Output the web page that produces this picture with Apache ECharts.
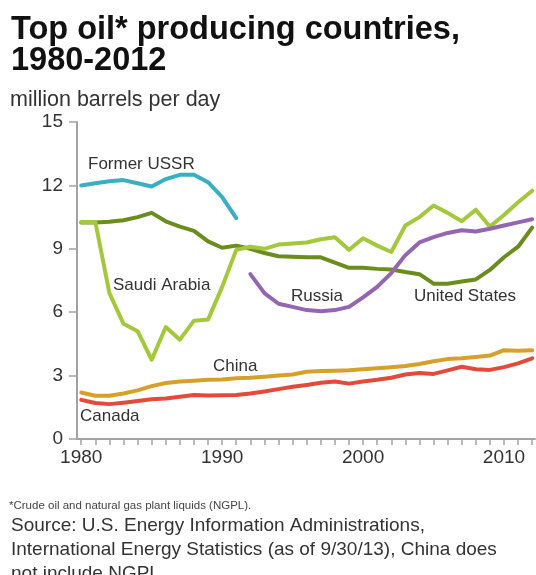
<!DOCTYPE html>
<html>
<head>
<meta charset="utf-8">
<script src="https://cdn.jsdelivr.net/npm/echarts@6/dist/echarts.min.js"></script>
<style>
  html, body { margin: 0; padding: 0; background: #fff; }
  #chart { width: 536px; height: 575px; }
</style>
</head>
<body>
<div id="chart"></div>
<script>
// Years on the horizontal axis
const years = [1980, 1981, 1982, 1983, 1984, 1985, 1986, 1987, 1988, 1989,
  1990, 1991, 1992, 1993, 1994, 1995, 1996, 1997, 1998, 1999,
  2000, 2001, 2002, 2003, 2004, 2005, 2006, 2007, 2008, 2009,
  2010, 2011, 2012];
const yearLabels = [1980, 1990, 2000, 2010];
const ussrYears = [1980, 1981, 1982, 1983, 1984, 1985, 1986, 1987, 1988, 1989, 1990, 1991];
const russiaYears = [1992, 1993, 1994, 1995, 1996, 1997, 1998, 1999, 2000, 2001,
  2002, 2003, 2004, 2005, 2006, 2007, 2008, 2009, 2010, 2011, 2012];

// Production, million barrels per day
const formerUSSR = [12.0, 12.1, 12.2, 12.25, 12.1, 11.95, 12.3, 12.5, 12.5, 12.15, 11.45, 10.45];
const russia = [7.8, 6.9, 6.4, 6.25, 6.1, 6.05, 6.1, 6.25, 6.7, 7.2, 7.85, 8.7, 9.3, 9.55,
  9.75, 9.88, 9.82, 9.95, 10.1, 10.25, 10.4];
const unitedStates = [10.25, 10.25, 10.28, 10.35, 10.5, 10.7, 10.3, 10.05, 9.85, 9.35,
  9.05, 9.15, 9.0, 8.8, 8.65, 8.62, 8.6, 8.6, 8.35, 8.1,
  8.1, 8.05, 8.02, 7.9, 7.8, 7.35, 7.35, 7.45, 7.55, 8.0,
  8.6, 9.1, 10.0];
const saudiArabia = [10.27, 10.27, 6.9, 5.45, 5.1, 3.75, 5.3, 4.7, 5.6, 5.65,
  7.2, 8.95, 9.1, 9.0, 9.2, 9.25, 9.3, 9.45, 9.55, 8.95,
  9.5, 9.15, 8.85, 10.1, 10.5, 11.05, 10.7, 10.3, 10.85, 10.05,
  10.6, 11.2, 11.75];
const china = [2.2, 2.05, 2.05, 2.15, 2.3, 2.5, 2.65, 2.72, 2.76, 2.8,
  2.82, 2.87, 2.9, 2.95, 3.0, 3.05, 3.18, 3.22, 3.23, 3.25,
  3.3, 3.35, 3.4, 3.45, 3.55, 3.68, 3.78, 3.82, 3.88, 3.95,
  4.2, 4.18, 4.2];
const canada = [1.85, 1.7, 1.65, 1.72, 1.8, 1.88, 1.92, 2.0, 2.08, 2.06,
  2.07, 2.08, 2.15, 2.25, 2.36, 2.47, 2.56, 2.66, 2.72, 2.62,
  2.72, 2.8, 2.9, 3.05, 3.12, 3.08, 3.25, 3.42, 3.3, 3.27,
  3.4, 3.58, 3.82];
const yTicks = [0, 3, 6, 9, 12, 15];

const FONT = '"Liberation Sans", Arial, Helvetica, sans-serif';
const AXIS_GREY = '#a3a3a3';
const TEXT = '#333333';

function pairs(xs, vs) {
  return xs.map((x, i) => [x, vs[i]]);
}

function lineSeries(name, xs, vs, color, z) {
  return {
    name: name,
    type: 'line',
    data: pairs(xs, vs),
    symbol: 'none',
    smooth: false,
    z: z,
    lineStyle: { color: color, width: 4, cap: 'round', join: 'round' }
  };
}

function label(text, x, y, size, fill) {
  return {
    type: 'text',
    x: x,
    y: y,
    style: {
      text: text,
      font: size + 'px ' + FONT,
      fill: fill || TEXT,
      verticalAlign: 'middle'
    }
  };
}

const chart = echarts.init(document.getElementById('chart'), null, { renderer: 'canvas' });

chart.setOption({
  backgroundColor: '#ffffff',
  animation: false,
  grid: { left: 77, right: 1, top: 122, bottom: 136, containLabel: false },
  xAxis: {
    type: 'value',
    min: 1979.7,
    max: 2012.2,
    axisLine: { show: true, lineStyle: { color: AXIS_GREY, width: 2 } },
    axisTick: {
      show: true,
      customValues: years,
      length: 6,
      lineStyle: { color: AXIS_GREY, width: 1.5 }
    },
    axisLabel: {
      customValues: yearLabels,
      fontFamily: FONT,
      fontSize: 19,
      color: TEXT,
      margin: 9,
      formatter: v => String(v)
    },
    splitLine: { show: false }
  },
  yAxis: {
    type: 'value',
    min: 0,
    max: 15,
    interval: 3,
    axisLine: { show: true, lineStyle: { color: AXIS_GREY, width: 2 } },
    axisTick: {
      show: true,
      customValues: yTicks,
      length: 8,
      lineStyle: { color: AXIS_GREY, width: 1.5 }
    },
    axisLabel: {
      fontFamily: FONT,
      fontSize: 19,
      color: TEXT,
      margin: 14
    },
    splitLine: { show: false }
  },
  series: [
    lineSeries('China', years, china, '#d6a12b', 3),
    lineSeries('Canada', years, canada, '#e24b3b', 3),
    lineSeries('United States', years, unitedStates, '#6b8c1e', 4),
    lineSeries('Saudi Arabia', years, saudiArabia, '#a3c83c', 5),
    lineSeries('Russia', russiaYears, russia, '#9566b0', 6),
    lineSeries('Former USSR', ussrYears, formerUSSR, '#3aafc0', 6)
  ],
  graphic: [
    {
      type: 'text', x: 11, y: 30,
      style: { text: 'Top oil* producing countries,', font: 'bold 32.5px ' + FONT, fill: '#111111', verticalAlign: 'middle' }
    },
    {
      type: 'text', x: 11, y: 61,
      style: { text: '1980-2012', font: 'bold 32.5px ' + FONT, fill: '#111111', verticalAlign: 'middle' }
    },
    label('million barrels per day', 10, 100, 21.5),
    label('Former USSR', 88, 164, 17),
    label('Saudi Arabia', 113, 285, 17),
    label('Russia', 291, 296, 17),
    label('United States', 414, 296, 17),
    label('China', 213, 366, 17),
    label('Canada', 80, 416, 17),
    label('*Crude oil and natural gas plant liquids (NGPL).', 9, 506, 11.5, '#444444'),
    label('Source: U.S. Energy Information Administrations,', 11, 526, 19),
    label('International Energy Statistics (as of 9/30/13), China does', 11, 550, 19),
    label('not include NGPL.', 11, 574, 19)
  ]
});
</script>
</body>
</html>
